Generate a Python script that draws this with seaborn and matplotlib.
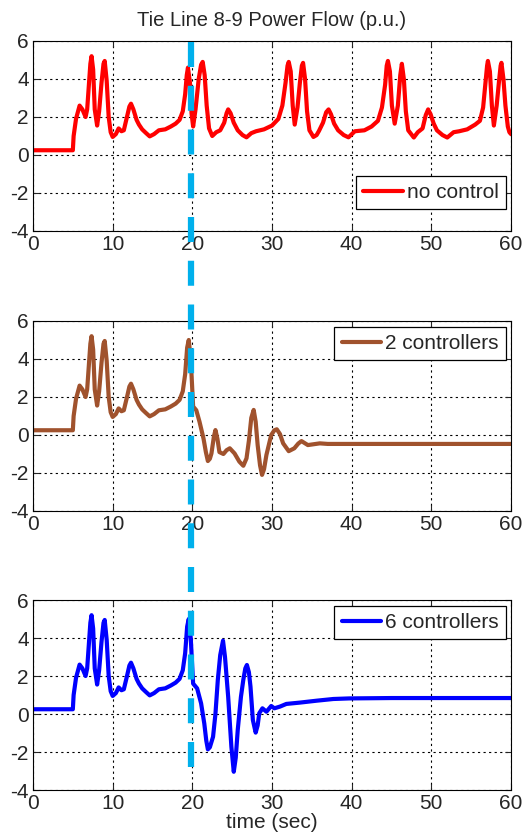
import numpy as np
import pandas as pd
import matplotlib
matplotlib.use('Agg')
import matplotlib.pyplot as plt
import seaborn as sns
from matplotlib.lines import Line2D

sns.set_style('ticks')
plt.rcParams['font.family'] = ['Liberation Sans', 'DejaVu Sans']
plt.rcParams['axes.unicode_minus'] = False

# (time, p.u.) points
pre_fault = [(0, 0.25), (5.0, 0.25), (5.1, 1.0), (5.4, 1.9), (5.85, 2.6), (6.2, 2.4),
             (6.6, 2.0), (6.8, 2.4), (7.0, 3.6), (7.2, 4.8), (7.35, 5.2), (7.55, 4.5),
             (7.75, 2.4), (8.05, 1.55), (8.3, 2.3), (8.6, 3.8), (8.85, 4.8), (9.0, 4.95),
             (9.25, 3.9), (9.5, 2.0), (9.75, 1.2), (10.0, 0.95), (10.4, 1.1), (10.75, 1.4),
             (11.1, 1.25), (11.4, 1.3), (11.8, 2.0), (12.1, 2.55), (12.3, 2.7), (12.6, 2.4),
             (13.0, 1.85), (13.3, 1.6), (13.7, 1.35), (14.2, 1.15), (14.65, 0.98),
             (15.2, 1.1), (15.8, 1.3), (16.6, 1.35), (17.3, 1.5), (17.9, 1.65), (18.4, 1.85),
             (18.8, 2.3), (19.1, 3.2)]

no_control_post = [(19.3, 4.2), (19.45, 4.6), (19.7, 3.8), (19.9, 2.2), (20.1, 1.5), (20.4, 2.4),
                   (20.8, 4.0), (21.1, 4.75), (21.3, 4.9), (21.55, 4.2), (21.8, 2.6), (22.1, 1.4),
                   (22.5, 1.0), (23.0, 1.2), (23.5, 1.3), (24.0, 1.7), (24.3, 2.2), (24.5, 2.4),
                   (24.8, 2.2), (25.2, 1.7), (25.7, 1.3), (26.3, 1.05), (26.8, 0.93),
                   (27.4, 1.15), (28.0, 1.25), (29.0, 1.35), (30.0, 1.55), (30.8, 1.9),
                   (31.3, 2.6), (31.7, 3.8), (31.95, 4.7), (32.1, 4.9), (32.35, 4.4),
                   (32.6, 2.6), (32.85, 1.6), (33.2, 2.5), (33.5, 3.8), (33.75, 4.7),
                   (33.9, 4.85), (34.15, 4.0), (34.4, 2.3), (34.7, 1.3), (35.2, 0.95),
                   (35.6, 1.05), (35.9, 1.27), (36.4, 1.7), (36.8, 2.25), (37.1, 2.4),
                   (37.4, 2.15), (37.8, 1.65), (38.3, 1.3), (39.0, 1.05), (39.6, 0.93),
                   (40.4, 1.25), (41.6, 1.3), (42.5, 1.5), (43.3, 1.8), (43.8, 2.5),
                   (44.2, 3.7), (44.4, 4.7), (44.55, 4.95), (44.8, 4.4), (45.05, 2.6),
                   (45.4, 1.65), (45.8, 2.6), (46.1, 4.2), (46.3, 4.8), (46.55, 4.0),
                   (46.8, 2.3), (47.1, 1.3), (47.8, 0.92), (48.3, 1.2), (48.9, 1.4),
                   (49.3, 2.1), (49.6, 2.4), (49.9, 2.15), (50.3, 1.65), (50.7, 1.3),
                   (51.4, 1.05), (52.0, 0.92), (52.8, 1.2), (53.5, 1.25), (54.5, 1.35),
                   (55.5, 1.6), (56.1, 1.8), (56.5, 2.5), (56.8, 3.8), (57.0, 4.7),
                   (57.1, 4.95), (57.35, 4.4), (57.6, 2.6), (57.85, 1.55), (58.2, 2.6),
                   (58.5, 3.9), (58.7, 4.7), (58.8, 4.85), (59.05, 4.0), (59.3, 2.6),
                   (59.6, 1.5), (59.8, 1.2), (60.0, 1.1)]

two_ctrl_post = [(19.35, 4.6), (19.55, 5.0), (19.8, 4.0), (20.1, 1.5), (20.5, 1.3), (20.9, 0.7),
                 (21.4, -0.18), (21.7, -0.9), (21.95, -1.37), (22.2, -1.25), (22.4, -0.97),
                 (22.7, -0.1), (22.9, 0.26), (23.15, -0.2), (23.4, -0.9), (23.9, -1.0),
                 (24.3, -0.8), (24.7, -0.7), (25.3, -0.97), (25.9, -1.4), (26.4, -1.62),
                 (26.8, -1.23), (27.1, -0.3), (27.4, 0.9), (27.7, 1.32), (27.95, 0.7),
                 (28.2, -0.53), (28.5, -1.6), (28.75, -2.1), (29.0, -1.8), (29.3, -1.05),
                 (29.9, 0.0), (30.3, 0.25), (30.6, 0.3), (31.0, 0.05), (31.4, -0.44),
                 (32.1, -0.85), (32.8, -0.7), (33.3, -0.45), (33.7, -0.32), (34.5, -0.53),
                 (36.0, -0.44), (37.0, -0.47), (60.0, -0.47)]

six_ctrl_post = [(19.35, 4.6), (19.55, 5.0), (19.8, 4.0), (20.1, 1.6), (20.6, 1.35), (21.1, 0.56),
                 (21.5, -0.5), (21.75, -1.4), (21.95, -1.86), (22.2, -1.75), (22.6, -1.2),
                 (22.9, 0.0), (23.2, 1.8), (23.5, 3.1), (23.85, 3.86), (24.1, 3.0),
                 (24.5, 0.9), (24.9, -1.72), (25.2, -3.04), (25.45, -2.3), (25.7, -0.84),
                 (26.1, 0.9), (26.4, 1.8), (26.65, 2.4), (26.85, 2.58), (27.1, 2.2),
                 (27.3, 1.44), (27.6, -0.32), (27.95, -0.98), (28.2, -0.6), (28.4, 0.04),
                 (28.8, 0.3), (29.3, 0.12), (29.9, 0.42), (30.3, 0.3), (31.0, 0.39),
                 (31.8, 0.53), (33.5, 0.6), (35.6, 0.7), (37.7, 0.79), (39.7, 0.82),
                 (45.0, 0.84), (60.0, 0.84)]

labels = ['no control', '2 controllers', '6 controllers']
colors = ['#ff0000', '#a0522d', '#0000ff']
series = [pre_fault + no_control_post, pre_fault + two_ctrl_post, pre_fault + six_ctrl_post]
legend_locs = ['lower right', 'upper right', 'upper right']
legend_anchor = [(0.99, 0.115), (0.99, 0.97), (0.99, 0.97)]

W, H = 530, 840
fig = plt.figure(figsize=(W / 100, H / 100), dpi=100)
tops = [41, 321, 600]
axes = []
for i, top in enumerate(tops):
    ax = fig.add_axes([33 / W, 1 - (top + 190) / H, 478 / W, 190 / H])
    df = pd.DataFrame(series[i], columns=['t', 'p'])
    sns.lineplot(data=df, x='t', y='p', ax=ax, color=colors[i], lw=3.0,
                 estimator=None, sort=False, label=labels[i],
                 solid_joinstyle='round', solid_capstyle='round')
    ax.set_xlim(0, 60)
    ax.set_ylim(-4, 6)
    ax.set_xticks(range(0, 61, 10))
    ax.set_yticks(range(-4, 7, 2))
    ax.grid(True, color='black', linestyle=(0, (2, 3)), linewidth=0.8)
    ax.tick_params(direction='in', length=4, labelsize=15, top=True, right=True, pad=3,
                   width=0.8)
    for s in ax.spines.values():
        s.set_linewidth(0.8)
        s.set_color('black')
    ax.set_xlabel('')
    ax.set_ylabel('')
    leg = ax.legend(loc=legend_locs[i], bbox_to_anchor=legend_anchor[i], fontsize=15,
                    fancybox=False, framealpha=1, edgecolor='black', handlelength=1.9,
                    borderpad=0.35, handletextpad=0.2, borderaxespad=0)
    leg.get_frame().set_linewidth(0.9)
    axes.append(ax)

axes[0].set_title('Tie Line 8-9 Power Flow (p.u.)', fontsize=14.5, pad=11)
axes[2].set_xlabel('time (sec)', fontsize=15, labelpad=0)

# fault instant marker spanning all panels
fault_t = 19.85
fig.canvas.draw()
xf = fig.transFigure.inverted().transform(axes[0].transData.transform((fault_t, 0)))[0]
marker = Line2D([xf, xf], [1 - 42 / H, 1 - 782 / H], transform=fig.transFigure,
                color='#00b0ec', lw=4.5, zorder=10)
marker.set_dashes((4.0, 3.0))
fig.add_artist(marker)

fig.savefig('out.png', dpi=100)
